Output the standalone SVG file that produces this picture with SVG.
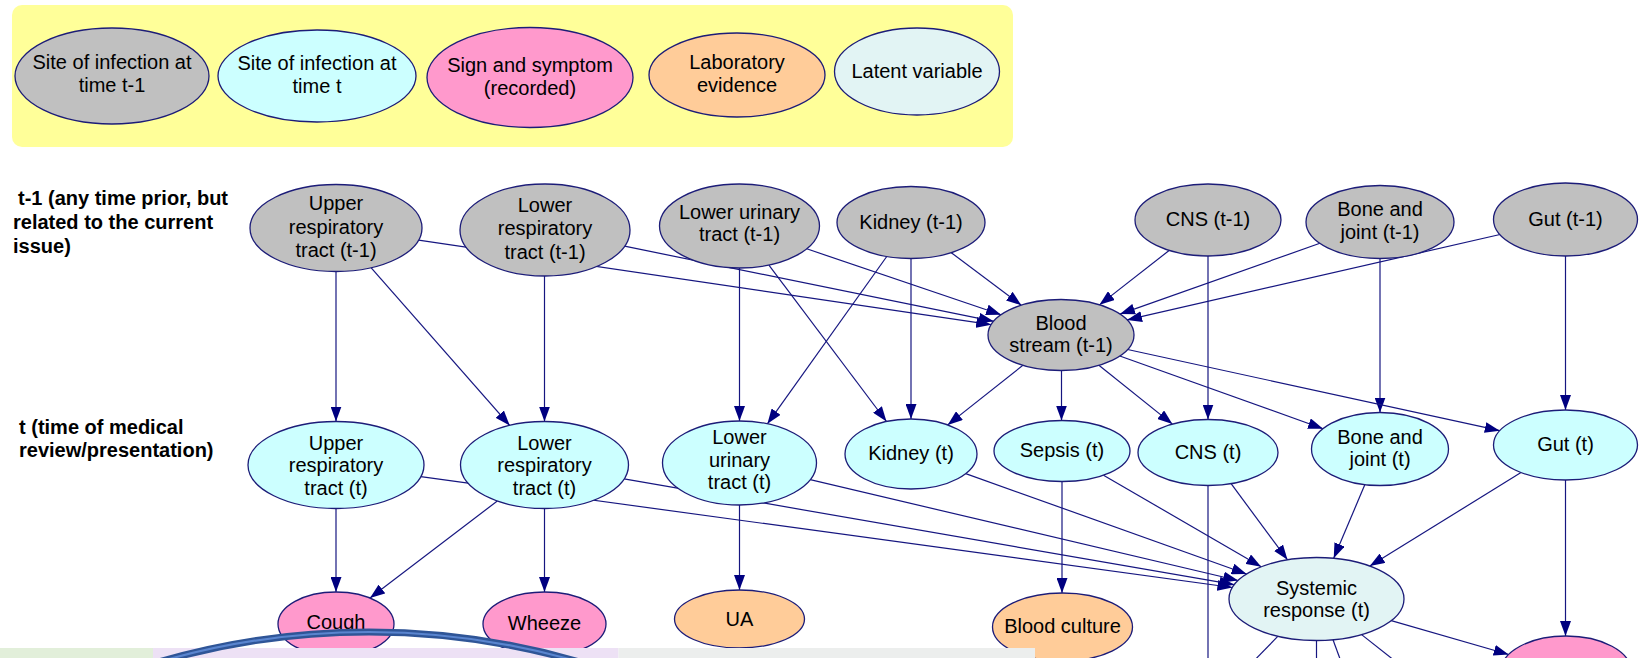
<svg xmlns="http://www.w3.org/2000/svg" width="1647" height="658" viewBox="0 0 1647 658">
  <style>
    .bg { fill: #ffffff; }
    .legend { fill: #ffff99; }
    .nd { stroke: #1c1c78; stroke-width: 1.3; }
    .prev { fill: #c0c0c0; }
    .now { fill: #ccffff; }
    .sign { fill: #ff99cc; }
    .lab { fill: #ffcc99; }
    .latent { fill: #e2f4f4; }
    .t { font-family: "Liberation Sans", Arial, sans-serif; font-size: 20px; text-anchor: middle; fill: #000000; }
    .hdr { font-family: "Liberation Sans", Arial, sans-serif; font-size: 20px; font-weight: bold; fill: #000000; }
    .e { stroke: #161680; stroke-width: 1.2; fill: none; marker-end: url(#arrow); }
    .e0 { stroke: #161680; stroke-width: 1.2; fill: none; }
  </style>
  <defs>
    <marker id="arrow" viewBox="0 0 15 11" refX="15" refY="5.5" markerWidth="15" markerHeight="11" markerUnits="userSpaceOnUse" orient="auto">
      <path d="M0,0 L15,5.5 L0,11 z" fill="#000080"/>
    </marker>
  </defs>

  <rect class="bg" x="0" y="0" width="1647" height="658"/>

  <!-- key -->
  <g id="legend">
    <rect class="legend" x="12" y="5" width="1001" height="142" rx="10" ry="10"/>
    <g id="key-t-1">
      <ellipse class="nd prev" cx="112" cy="76" rx="97" ry="48"/>
      <text class="t" x="112" y="68.5">Site of infection at</text>
      <text class="t" x="112" y="91.5">time t-1</text>
    </g>
    <g id="key-t">
      <ellipse class="nd now" cx="317" cy="76" rx="99" ry="46"/>
      <text class="t" x="317" y="70">Site of infection at</text>
      <text class="t" x="317" y="93">time t</text>
    </g>
    <g id="key-sign">
      <ellipse class="nd sign" cx="530" cy="77.5" rx="103" ry="50"/>
      <text class="t" x="530" y="71.5">Sign and symptom</text>
      <text class="t" x="530" y="94.5">(recorded)</text>
    </g>
    <g id="key-lab">
      <ellipse class="nd lab" cx="737" cy="75" rx="88" ry="42"/>
      <text class="t" x="737" y="68.5">Laboratory</text>
      <text class="t" x="737" y="91.5">evidence</text>
    </g>
    <g id="key-latent">
      <ellipse class="nd latent" cx="917" cy="71.5" rx="82.5" ry="43.5"/>
      <text class="t" x="917" y="77.5">Latent variable</text>
    </g>
  </g>

  <!-- row headings -->
  <g id="row-labels">
    <text class="hdr" x="18" y="205">t-1 (any time prior, but</text>
    <text class="hdr" x="13" y="229">related to the current</text>
    <text class="hdr" x="13" y="253">issue)</text>
    <text class="hdr" x="19" y="434">t (time of medical</text>
    <text class="hdr" x="19" y="457">review/presentation)</text>
  </g>

  <!-- connectors -->
  <g id="edges">
    <path class="e" d="M336,271.5 L336,421.5"/>
    <path class="e" d="M371,267.7 L509.7,425.4"/>
    <path class="e" d="M544.5,276 L544.5,421.5"/>
    <path class="e" d="M739.5,268 L739.5,421"/>
    <path class="e" d="M768.9,265.1 L886.5,421.5"/>
    <path class="e" d="M886.75,256.5 L767.4,423.85"/>
    <path class="e" d="M911,258.5 L911,419"/>
    <path class="e" d="M1208,256 L1208,419.5"/>
    <path class="e" d="M1380,258.5 L1380,412.5"/>
    <path class="e" d="M1565.5,256 L1565.5,410"/>

    <path class="e" d="M418.6,240.2 L991.2,324.7"/>
    <path class="e" d="M624.6,246.2 L993.7,321.3"/>
    <path class="e" d="M806.7,248.8 L1001.1,314.7"/>
    <path class="e" d="M951.3,252.7 L1021.3,305.2"/>
    <path class="e" d="M1169.1,250.5 L1099.5,304.85"/>
    <path class="e" d="M1319.9,243.3 L1120,314.1"/>
    <path class="e" d="M1500,234.5 L1127,319.9"/>

    <path class="e" d="M1022.9,365.3 L947.7,424.9"/>
    <path class="e" d="M1061.5,370.5 L1061.5,420.5"/>
    <path class="e" d="M1098.9,365.3 L1172.4,424.1"/>
    <path class="e" d="M1119.8,356 L1323.1,428.7"/>
    <path class="e" d="M1127.6,349.5 L1499.8,430.7"/>

    <path class="e" d="M420.8,476.6 L1232.4,587.5"/>
    <path class="e" d="M624.1,478.8 L1234.3,584.7"/>
    <path class="e" d="M810.2,479.7 L1238.1,580.5"/>
    <path class="e" d="M965.7,473.6 L1246.6,574"/>
    <path class="e" d="M1103.5,475.2 L1261.2,566.8"/>
    <path class="e" d="M1231.1,483.7 L1287.5,559.85"/>
    <path class="e" d="M1364.9,484.6 L1333.7,558.3"/>
    <path class="e" d="M1521,472.5 L1369.8,566.1"/>

    <path class="e" d="M336,508.5 L336,592"/>
    <path class="e" d="M497.3,501 L370,598.1"/>
    <path class="e" d="M544.5,508.5 L544.5,592"/>
    <path class="e" d="M739.5,505 L739.5,590"/>
    <path class="e" d="M1062,481.5 L1062,593"/>
    <path class="e" d="M1565.5,480 L1565.5,636"/>
    <path class="e" d="M1391.25,620.6 L1508.7,654.5"/>

    <path class="e0" d="M1208,485.5 L1208,670"/>
    <path class="e0" d="M1278,636.2 L1245,670"/>
    <path class="e0" d="M1316.5,640.5 L1316.5,670"/>
    <path class="e0" d="M1333,639.75 L1344.1,670"/>
    <path class="e0" d="M1361.6,634.6 L1406.4,670"/>
  </g>

  <!-- sites of infection at t-1 -->
  <g id="upper-resp-t-1">
    <ellipse class="nd prev" cx="336" cy="228" rx="86" ry="43.5"/>
    <text class="t" x="336" y="210">Upper</text>
    <text class="t" x="336" y="233.5">respiratory</text>
    <text class="t" x="336" y="257">tract (t-1)</text>
  </g>
  <g id="lower-resp-t-1">
    <ellipse class="nd prev" cx="545" cy="230" rx="85" ry="46"/>
    <text class="t" x="545" y="211.5">Lower</text>
    <text class="t" x="545" y="235">respiratory</text>
    <text class="t" x="545" y="258.5">tract (t-1)</text>
  </g>
  <g id="lower-urinary-t-1">
    <ellipse class="nd prev" cx="739.5" cy="226" rx="80" ry="42"/>
    <text class="t" x="739.5" y="218.5">Lower urinary</text>
    <text class="t" x="739.5" y="241">tract (t-1)</text>
  </g>
  <g id="kidney-t-1">
    <ellipse class="nd prev" cx="911" cy="222.5" rx="74" ry="36"/>
    <text class="t" x="911" y="228.5">Kidney (t-1)</text>
  </g>
  <g id="cns-t-1">
    <ellipse class="nd prev" cx="1208" cy="220" rx="73" ry="36"/>
    <text class="t" x="1208" y="226">CNS (t-1)</text>
  </g>
  <g id="bone-joint-t-1">
    <ellipse class="nd prev" cx="1380" cy="222" rx="74" ry="36.5"/>
    <text class="t" x="1380" y="215.5">Bone and</text>
    <text class="t" x="1380" y="238.5">joint (t-1)</text>
  </g>
  <g id="gut-t-1">
    <ellipse class="nd prev" cx="1565.5" cy="219.5" rx="72" ry="36.5"/>
    <text class="t" x="1565.5" y="225.5">Gut (t-1)</text>
  </g>
  <g id="blood-stream-t-1">
    <ellipse class="nd prev" cx="1061" cy="335" rx="73" ry="35.5"/>
    <text class="t" x="1061" y="329.5">Blood</text>
    <text class="t" x="1061" y="352">stream (t-1)</text>
  </g>

  <!-- sites of infection at t -->
  <g id="upper-resp-t">
    <ellipse class="nd now" cx="336" cy="465" rx="88" ry="43.5"/>
    <text class="t" x="336" y="449.5">Upper</text>
    <text class="t" x="336" y="472">respiratory</text>
    <text class="t" x="336" y="494.5">tract (t)</text>
  </g>
  <g id="lower-resp-t">
    <ellipse class="nd now" cx="544.5" cy="465" rx="84" ry="43.5"/>
    <text class="t" x="544.5" y="449.5">Lower</text>
    <text class="t" x="544.5" y="472">respiratory</text>
    <text class="t" x="544.5" y="494.5">tract (t)</text>
  </g>
  <g id="lower-urinary-t">
    <ellipse class="nd now" cx="739.5" cy="463" rx="77" ry="42"/>
    <text class="t" x="739.5" y="444">Lower</text>
    <text class="t" x="739.5" y="466.5">urinary</text>
    <text class="t" x="739.5" y="489">tract (t)</text>
  </g>
  <g id="kidney-t">
    <ellipse class="nd now" cx="911" cy="454" rx="66" ry="35"/>
    <text class="t" x="911" y="460">Kidney (t)</text>
  </g>
  <g id="sepsis-t">
    <ellipse class="nd now" cx="1062" cy="451" rx="68" ry="30.5"/>
    <text class="t" x="1062" y="456.5">Sepsis (t)</text>
  </g>
  <g id="cns-t">
    <ellipse class="nd now" cx="1208" cy="452.5" rx="70" ry="33"/>
    <text class="t" x="1208" y="458.5">CNS (t)</text>
  </g>
  <g id="bone-joint-t">
    <ellipse class="nd now" cx="1380" cy="449" rx="68.5" ry="36.5"/>
    <text class="t" x="1380" y="443.5">Bone and</text>
    <text class="t" x="1380" y="466">joint (t)</text>
  </g>
  <g id="gut-t">
    <ellipse class="nd now" cx="1565.5" cy="445" rx="72" ry="35"/>
    <text class="t" x="1565.5" y="451">Gut (t)</text>
  </g>
  <g id="systemic-response-t">
    <ellipse class="nd latent" cx="1316.5" cy="599" rx="87.5" ry="41.5"/>
    <text class="t" x="1316.5" y="594.5">Systemic</text>
    <text class="t" x="1316.5" y="617">response (t)</text>
  </g>

  <!-- recorded signs and laboratory evidence -->
  <g id="cough">
    <ellipse class="nd sign" cx="336" cy="624" rx="58" ry="32"/>
    <text class="t" x="336" y="628.5">Cough</text>
  </g>
  <g id="wheeze">
    <ellipse class="nd sign" cx="544.5" cy="624" rx="61.5" ry="32"/>
    <text class="t" x="544.5" y="630">Wheeze</text>
  </g>
  <g id="ua">
    <ellipse class="nd lab" cx="739.5" cy="619" rx="65" ry="29"/>
    <text class="t" x="739.5" y="626">UA</text>
  </g>
  <g id="blood-culture">
    <ellipse class="nd lab" cx="1062.5" cy="627" rx="70" ry="34"/>
    <text class="t" x="1062.5" y="633">Blood culture</text>
  </g>
  <g id="sign-bottom-right">
    <ellipse class="nd sign" cx="1566" cy="671" rx="65" ry="35"/>
  </g>

  <!-- strip along the lower edge -->
  <g id="bottom-strip">
    <rect x="0" y="648" width="153" height="12" fill="#e2efda"/>
    <rect x="153" y="648" width="465.5" height="12" fill="#ede1f5"/>
    <rect x="618.5" y="648" width="416.5" height="12" fill="#eceeed"/>
    <path d="M127,672 A752,752 0 0 1 611,672" fill="none" stroke="#2f5597" stroke-width="7"/>
    <path d="M127,672 A752,752 0 0 1 611,672" fill="none" stroke="#5a85cf" stroke-width="2.2"/>
  </g>
</svg>
